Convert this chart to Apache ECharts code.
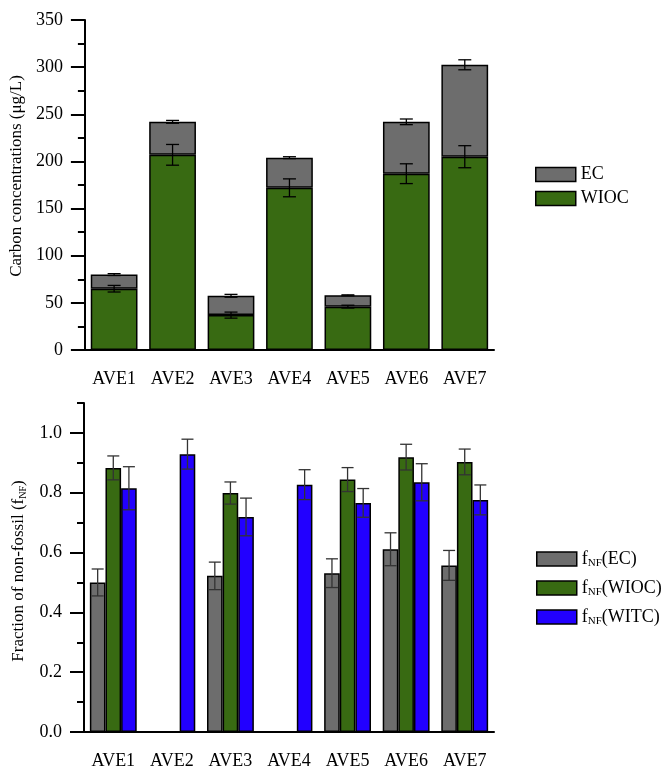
<!DOCTYPE html>
<html><head><meta charset="utf-8">
<script src="https://cdn.jsdelivr.net/npm/echarts@6/dist/echarts.min.js"></script>
<style>html,body{margin:0;padding:0;background:#fff}#c{width:664px;height:771px}</style>
</head><body><div id="c"></div>
<script>
// ---- data ----
const categories = ['AVE1','AVE2','AVE3','AVE4','AVE5','AVE6','AVE7'];
// top panel (µg/L)
const wioc     = [65, 207, 37, 172, 46, 187, 205];
const wiocErr  = [3.5, 11, 3.2, 9.5, 1.5, 10.5, 11.7];
const ec       = [15, 35, 20.5, 32, 12, 55, 97.5];
const ecErr    = [1, 1.5, 1.5, 1, 0.5, 3, 5.3];
const topTicks = [0, 50, 100, 150, 200, 250, 300, 350];
// bottom panel (fraction of non-fossil)
const fEC       = [0.500, null, 0.522, null, 0.531, 0.611, 0.557];
const fECErr    = [0.045, null, 0.046, null, 0.048, 0.055, 0.050];
const fWIOC     = [0.883, null, 0.799, null, 0.844, 0.919, 0.903];
const fWIOCErr  = [0.040, null, 0.037, null, 0.040, 0.043, 0.043];
const fWITC     = [0.815, 0.929, 0.719, 0.827, 0.766, 0.835, 0.776];
const fWITCErr  = [0.072, 0.050, 0.063, 0.050, 0.048, 0.062, 0.050];
const botTicks  = [0, 0.2, 0.4, 0.6, 0.8, 1.0];

const FONT = 'Liberation Serif';
const GRAY = '#6d6d6d', GREEN = '#386a12', BLUE = '#2200ff';

const chart = echarts.init(document.getElementById('c'), null, {renderer:'canvas'});

function errSeries(xi, yi, data, group, nGroups, cap, color){
  return {
    type:'custom', xAxisIndex:xi, yAxisIndex:yi, z:10, silent:true,
    data: data,
    renderItem: function(params, api){
      const i = api.value(0), v = api.value(1), e = api.value(2);
      if (v == null || isNaN(v) || e == null || isNaN(e)) return;
      const band = api.size([1,0])[0];
      const bw = band*0.8/nGroups;
      const off = (group - (nGroups-1)/2)*bw;
      const hi = api.coord([i, v+e]), lo = api.coord([i, v-e]);
      const x = hi[0] + off;
      const st = {stroke:color, lineWidth:1.3};
      return {type:'group', children:[
        {type:'line', shape:{x1:x,y1:hi[1],x2:x,y2:lo[1]}, style:st},
        {type:'line', shape:{x1:x-cap/2,y1:hi[1],x2:x+cap/2,y2:hi[1]}, style:st},
        {type:'line', shape:{x1:x-cap/2,y1:lo[1],x2:x+cap/2,y2:lo[1]}, style:st}
      ]};
    }
  };
}

const axisLineStyle = {color:'#000', width:2};
const labelStyle = {color:'#000', fontFamily:FONT, fontSize:18};

function catAxis(gi){
  return {type:'category', gridIndex:gi, data:categories,
    axisLine:{lineStyle:axisLineStyle},
    axisTick:{alignWithLabel:true, length:12, lineStyle:{width:2,color:'#000'}},
    axisLabel:Object.assign({margin:20}, labelStyle)};
}

const barItem = c => ({color:c, borderColor:'#000', borderWidth:1.5});
const subRich = {
  a:{fontFamily:FONT,fontSize:17,lineHeight:20,color:'#000'},
  b:{fontFamily:FONT,fontSize:10,lineHeight:10,verticalAlign:'bottom',color:'#000'}
};
const legRich = {
  a:{fontFamily:FONT,fontSize:18,lineHeight:20,color:'#000'},
  b:{fontFamily:FONT,fontSize:11,lineHeight:11,verticalAlign:'bottom',color:'#000'}
};

const option = {
  animation:false,
  backgroundColor:'#fff',
  textStyle:{fontFamily:FONT},
  grid:[
    {left:84, top:20, width:410, height:330},
    {left:84, top:403, width:410, height:329}
  ],
  xAxis:[catAxis(0), catAxis(1)],
  yAxis:[
    {type:'value', gridIndex:0, position:'left', min:0, max:350, interval:50,
     name:'Carbon concentrations (\u03bcg/L)', nameLocation:'middle', nameGap:51,
     nameTextStyle:{color:'#000', fontFamily:FONT, fontSize:17, padding:[0,0,0,18]},
     axisLine:{show:true, lineStyle:axisLineStyle},
     axisTick:{show:true, length:14, lineStyle:{width:2,color:'#000'}},
     minorTick:{show:true, splitNumber:2, length:7, lineStyle:{width:2,color:'#000'}},
     splitLine:{show:false},
     axisLabel:Object.assign({margin:22, formatter:v=>String(v)}, labelStyle)},
    {type:'value', gridIndex:1, position:'left', min:0, max:1.1, interval:0.1,
     name:'{a|Fraction of non-fossil (f}{b|NF}{a|)}', nameLocation:'middle', nameGap:51,
     nameTextStyle:{color:'#000', fontFamily:FONT, fontSize:17, padding:[0,7,0,0], rich:subRich},
     axisLine:{show:true, lineStyle:axisLineStyle},
     axisTick:{show:true, length:7, lineStyle:{width:2,color:'#000'}},
     splitLine:{show:false},
     axisLabel:Object.assign({margin:22, formatter:function(v){
        const t = Math.round(v*10);
        return (t%2===0 && t<=10) ? v.toFixed(1) : '';
     }}, labelStyle)},
    {type:'value', gridIndex:1, position:'left', offset:0, min:0, max:1.1,
     axisLine:{show:false},
     axisTick:{show:true, length:14, customValues:botTicks, lineStyle:{width:2,color:'#000'}},
     axisLabel:{show:false},
     splitLine:{show:false}}
  ],
  legend:[
    {data:['EC','WIOC'], orient:'vertical', left:530, top:160,
     icon:'rect', itemWidth:40, itemHeight:14, itemGap:5,
     itemStyle:{borderColor:'#000', borderWidth:1.5},
     textStyle:{color:'#000', fontFamily:FONT, fontSize:18, lineHeight:19}},
    {data:['fEC','fWIOC','fWITC'], orient:'vertical', left:531, top:545,
     icon:'rect', itemWidth:40, itemHeight:14, itemGap:10,
     itemStyle:{borderColor:'#000', borderWidth:1.5},
     formatter:function(n){ return '{a|f}{b|NF}{a|(' + n.slice(1) + ')}'; },
     textStyle:{color:'#000', fontFamily:FONT, fontSize:18, rich:legRich}}
  ],
  series:[
    {name:'WIOC', type:'bar', xAxisIndex:0, yAxisIndex:0, stack:'top', data:wioc,
     barCategoryGap:'20%', itemStyle:barItem(GREEN)},
    {name:'EC', type:'bar', xAxisIndex:0, yAxisIndex:0, stack:'top', data:ec,
     barCategoryGap:'20%', itemStyle:barItem(GRAY)},
    errSeries(0,0, categories.map((c,i)=>[i, wioc[i], wiocErr[i]]), 0, 1, 13, '#000'),
    errSeries(0,0, categories.map((c,i)=>[i, wioc[i]+ec[i], ecErr[i]]), 0, 1, 13, '#000'),
    {name:'fEC', type:'bar', xAxisIndex:1, yAxisIndex:1, data:fEC,
     barGap:'0%', barCategoryGap:'20%', itemStyle:barItem(GRAY)},
    {name:'fWIOC', type:'bar', xAxisIndex:1, yAxisIndex:1, data:fWIOC,
     barGap:'0%', barCategoryGap:'20%', itemStyle:barItem(GREEN)},
    {name:'fWITC', type:'bar', xAxisIndex:1, yAxisIndex:1, data:fWITC,
     barGap:'0%', barCategoryGap:'20%', itemStyle:barItem(BLUE)},
    errSeries(1,1, categories.map((c,i)=>[i, fEC[i], fECErr[i]]), 0, 3, 12, '#333'),
    errSeries(1,1, categories.map((c,i)=>[i, fWIOC[i], fWIOCErr[i]]), 1, 3, 12, '#333'),
    errSeries(1,1, categories.map((c,i)=>[i, fWITC[i], fWITCErr[i]]), 2, 3, 12, '#333')
  ]
};
chart.setOption(option);
</script>
</body></html>
